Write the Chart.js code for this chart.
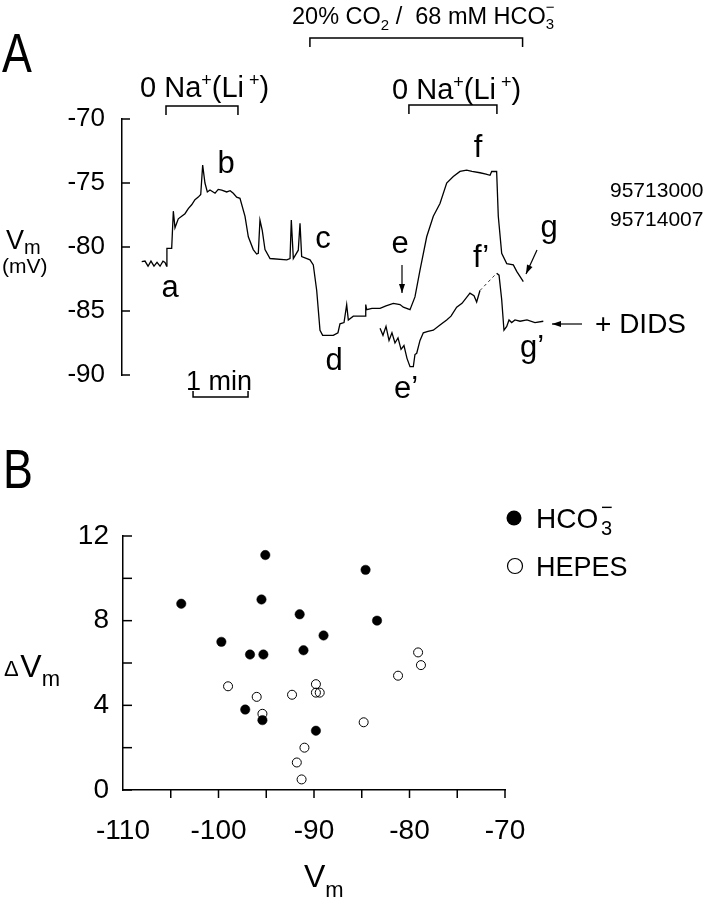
<!DOCTYPE html>
<html>
<head>
<meta charset="utf-8">
<script src="https://cdn.jsdelivr.net/npm/chart.js@4.4.0/dist/chart.umd.min.js"></script>
<style>
    html, body { margin: 0; padding: 0; background: #fff; }
    #wrap { position: relative; width: 708px; height: 899px; }
    #boxA { position: absolute; left: 0; top: 0; width: 708px; height: 420px; }
    #boxB { position: absolute; left: 0; top: 420px; width: 708px; height: 479px; }
</style>
</head>
<body>
<div id="wrap">
    <div id="boxA"><canvas id="chartA"></canvas></div>
    <div id="boxB"><canvas id="chartB"></canvas></div>
</div>
<script>
// Panel A: membrane potential trace (time in s, Vm in mV)
var traceT = [21.5, 25.1, 28.4, 31.6, 34.9, 38.2, 41.5, 44.7, 46.9, 48.6, 49.0, 54.2, 56.0, 57.8, 61.4, 65.1, 68.7, 72.3, 76.0, 79.6,
    83.2, 85.9, 88.0, 90.5, 93.1, 96.0, 101.5, 105.0, 108.8, 114.2, 118.0, 121.4, 125.1, 128.7, 134.2, 137.8, 143.2, 146.9, 148.7, 150.5,
    153.0, 156.0, 161.5, 179.7, 183.3, 184.7, 186.9, 192.3, 194.2, 196.0, 205.1, 208.7, 212.4, 216.0, 218.9, 230.5, 235.6, 237.8, 242.2, 245.1,
    246.9, 252.3, 265.1, 265.9, 266.9, 272.7, 281.5, 288.0, 296.0, 303.3, 306.9, 314.2, 319.6, 325.1, 332.4, 339.6, 346.9, 354.2, 361.4, 368.7,
    376.0, 381.8, 390.5, 397.1, 401.5, 403.3, 408.7, 410.5, 414.2, 419.7, 426.9, 430.6, 437.8];
var traceV = [-81.15, -81.1, -81.5, -81.1, -81.5, -81.2, -81.5, -81.1, -81.2, -81.5, -80.1, -80.1, -77.2, -78.5, -77.8, -77.6, -77.4, -77.0, -76.7, -76.3,
    -76.1, -75.9, -73.6, -75.0, -75.7, -75.55, -75.8, -75.5, -75.55, -75.7, -75.6, -75.8, -76.1, -76.2, -77.6, -79.2, -80.2, -80.55, -80.5, -77.9,
    -78.7, -80.2, -80.9, -81.0, -80.9, -77.9, -80.9, -80.25, -78.15, -80.75, -81.0, -81.4, -83.4, -86.5, -86.9, -86.9, -86.7, -86.0, -85.9, -84.5,
    -85.7, -85.4, -85.4, -84.5, -84.9, -84.8, -84.8, -84.6, -84.4, -84.5, -84.7, -84.9, -83.9, -81.8, -79.2, -77.6, -76.6, -75.0, -74.5, -74.1,
    -74.0, -74.1, -74.2, -74.3, -74.4, -74.1, -74.1, -77.6, -80.5, -81.3, -81.4, -81.9, -82.7];

// trace with DIDS (the gap after index 26 is drawn dashed)
var didsT = [281.5, 284.7, 288.0, 291.3, 294.5, 297.8, 301.1, 304.4, 307.6, 310.9, 314.2, 317.8, 319.6, 321.5, 325.1, 328.7, 333.8, 339.6, 346.9, 354.2,
    358.9, 365.1, 370.9, 379.6, 384.0, 386.9, 390.5, 408.7, 411.3, 414.2, 416.7, 419.7, 422.2, 425.1, 428.7, 434.2, 441.8, 450.5, 459.6];
var didsV = [-86.35, -86.9, -86.2, -87.3, -86.7, -87.5, -87.1, -88.0, -87.7, -88.7, -89.35, -89.35, -88.4, -88.3, -87.3, -86.7, -86.6, -86.5, -86.1, -85.7,
    -85.4, -84.7, -84.4, -83.6, -83.8, -84.3, -83.4, -82.05, -82.2, -84.1, -86.5, -86.2, -85.7, -85.9, -85.7, -85.8, -85.7, -85.9, -85.8];
var didsGapIndex = 26;

var naPulses = [[48, 126.5], [313, 409]];
var co2Pulse = [205, 437];
var scaleBar = [77.5, 137.5];

// Panel B: delta Vm vs Vm
var hco3Vm = [-103.9, -95.1, -84.6, -95.5, -91.5, -83.4, -99.7, -89.0, -96.7, -95.3, -91.1, -97.2, -95.4, -89.8];
var hco3dV = [8.8, 11.1, 10.4, 9.0, 8.3, 8.0, 7.0, 7.3, 6.4, 6.4, 6.6, 3.8, 3.3, 2.8];
var hepesVm = [-99.0, -96.0, -95.4, -92.3, -89.8, -89.8, -89.4, -84.8, -91.0, -91.8, -91.3, -81.2, -79.1, -78.8];
var hepesdV = [4.9, 4.4, 3.6, 4.5, 5.0, 4.6, 4.6, 3.2, 2.0, 1.3, 0.5, 5.4, 6.5, 5.9];

var FONT = '"Liberation Sans", Arial, sans-serif';
Chart.defaults.font.family = FONT;
Chart.defaults.color = '#000';

function pts(xs, ys) {
    return xs.map(function (x, i) { return { x: x, y: ys[i] }; });
}

function runs(ctx, x, y, parts) {
    parts.forEach(function (p) {
        ctx.font = p[1] + 'px ' + FONT;
        ctx.fillText(p[0], x, y + (p[2] || 0));
        if (!p[3]) x += ctx.measureText(p[0]).width;
    });
}

// condensed capital letter for panel tags
function tag(ctx, t, x, y) {
    ctx.save();
    ctx.translate(x, y);
    ctx.scale(0.8, 1);
    ctx.font = '56px ' + FONT;
    ctx.fillText(t, 0, 0);
    ctx.restore();
}

function line(ctx, x1, y1, x2, y2) {
    ctx.beginPath(); ctx.moveTo(x1, y1); ctx.lineTo(x2, y2); ctx.stroke();
}

function arrow(ctx, x1, y1, x2, y2) {
    line(ctx, x1, y1, x2, y2);
    var a = Math.atan2(y2 - y1, x2 - x1);
    ctx.beginPath();
    ctx.moveTo(x2, y2);
    ctx.lineTo(x2 - 9 * Math.cos(a) + 3 * Math.sin(a), y2 - 9 * Math.sin(a) - 3 * Math.cos(a));
    ctx.lineTo(x2 - 9 * Math.cos(a) - 3 * Math.sin(a), y2 - 9 * Math.sin(a) + 3 * Math.cos(a));
    ctx.closePath(); ctx.fill();
}

function bracket(ctx, x1, x2, y, h) {
    ctx.beginPath();
    ctx.moveTo(x1, y + h); ctx.lineTo(x1, y); ctx.lineTo(x2, y); ctx.lineTo(x2, y + h);
    ctx.stroke();
}

// inward ticks on y, optional downward ticks on x
var tickMarks = {
    id: 'tickMarks',
    afterDraw: function (chart, args, opts) {
        var ctx = chart.ctx, area = chart.chartArea;
        ctx.save();
        ctx.strokeStyle = '#000';
        ctx.lineWidth = 1.5;
        var ys = chart.scales.y;
        ys.ticks.forEach(function (t) {
            var p = ys.getPixelForValue(t.value);
            line(ctx, area.left, p, area.left + opts.len, p);
        });
        if (opts.xDown) {
            var xs = chart.scales.x;
            xs.ticks.forEach(function (t) {
                if (t.value === xs.min) return;
                var p = xs.getPixelForValue(t.value);
                line(ctx, p, area.bottom, p, area.bottom + 8);
            });
        }
        ctx.restore();
    }
};

var notesA = {
    id: 'notesA',
    afterDraw: function (chart) {
        var ctx = chart.ctx, xs = chart.scales.x;
        ctx.save();
        ctx.fillStyle = '#000';
        ctx.strokeStyle = '#000';
        ctx.lineWidth = 1.5;
        ctx.textBaseline = 'alphabetic';
        ctx.textAlign = 'left';

        tag(ctx, 'A', 2, 72);

        // solution bars
        bracket(ctx, xs.getPixelForValue(co2Pulse[0]), xs.getPixelForValue(co2Pulse[1]), 38, 9);
        runs(ctx, 292, 24, [['20% CO', 23.5], ['2', 15, 6], [' /  68 mM HCO', 23.5], ['\u2212', 15, -12, true], ['3', 15, 5]]);
        bracket(ctx, xs.getPixelForValue(naPulses[0][0]), xs.getPixelForValue(naPulses[0][1]), 106, 9);
        runs(ctx, 140, 97, [['0 Na', 29], ['+', 18, -11], ['(Li', 29], [' +', 18, -11], [')', 29]]);
        bracket(ctx, xs.getPixelForValue(naPulses[1][0]), xs.getPixelForValue(naPulses[1][1]), 105, 9);
        runs(ctx, 392, 99, [['0 Na', 29], ['+', 18, -11], ['(Li', 29], [' +', 18, -11], [')', 29]]);

        // axis title
        runs(ctx, 6, 249, [['V', 27], ['m', 20, 5]]);
        runs(ctx, 2, 273, [['(mV)', 21]]);

        // time scale bar
        var b1 = xs.getPixelForValue(scaleBar[0]), b2 = xs.getPixelForValue(scaleBar[1]);
        ctx.beginPath();
        ctx.moveTo(b1, 391); ctx.lineTo(b1, 397); ctx.lineTo(b2, 397); ctx.lineTo(b2, 391);
        ctx.stroke();
        ctx.textAlign = 'center';
        runs(ctx, 219, 390, [['1 min', 27]]);

        // point labels
        var labs = [['a', 170, 297], ['b', 226, 173], ['c', 323, 248], ['d', 334, 370], ['e', 400, 253],
            ['f', 478, 157], ['g', 549, 237], ['f\u2019', 481, 267], ['e\u2019', 406, 398], ['g\u2019', 532, 357]];
        labs.forEach(function (l) { runs(ctx, l[1], l[2], [[l[0], 31]]); });
        ctx.textAlign = 'left';

        ctx.lineWidth = 1.2;
        arrow(ctx, 402, 265, 402, 293);
        arrow(ctx, 537, 250, 526, 274);
        arrow(ctx, 582, 324, 552, 324);

        runs(ctx, 595, 333, [['+ DIDS', 28]]);
        runs(ctx, 610, 197, [['95713000', 21]]);
        runs(ctx, 610, 226, [['95714007', 21]]);
        ctx.restore();
    }
};

var notesB = {
    id: 'notesB',
    afterDraw: function (chart) {
        var ctx = chart.ctx;
        ctx.save();
        ctx.fillStyle = '#000';
        ctx.strokeStyle = '#000';
        ctx.textBaseline = 'alphabetic';
        ctx.textAlign = 'left';

        tag(ctx, 'B', 3, 68);
        runs(ctx, 4, 256, [['\u0394', 22], [' ', 6], ['V', 32, 1], ['m', 22, 10]]);
        runs(ctx, 304, 467, [['V', 32], ['m', 22, 10]]);

        // legend
        ctx.beginPath(); ctx.arc(514, 98, 7.5, 0, Math.PI * 2); ctx.fill();
        ctx.lineWidth = 1.2;
        ctx.beginPath(); ctx.arc(515, 146, 7.5, 0, Math.PI * 2); ctx.stroke();
        runs(ctx, 536, 108, [['HCO', 28], [' ', 10], ['\u2212', 20, -14, true], ['3', 20, 7]]);
        runs(ctx, 536, 156, [['HEPES', 27]]);
        ctx.restore();
    }
};

new Chart(document.getElementById('chartA'), {
    type: 'scatter',
    data: {
        datasets: [{
            data: pts(traceT, traceV),
            showLine: true,
            borderColor: '#000',
            borderWidth: 1.3,
            pointRadius: 0
        }, {
            data: pts(didsT, didsV),
            showLine: true,
            borderColor: '#000',
            borderWidth: 1.3,
            pointRadius: 0,
            segment: {
                borderDash: function (c) { return c.p0DataIndex === didsGapIndex ? [3, 3] : undefined; },
                borderWidth: function (c) { return c.p0DataIndex === didsGapIndex ? 0.8 : undefined; }
            }
        }]
    },
    options: {
        responsive: true,
        maintainAspectRatio: false,
        animation: false,
        layout: { padding: { left: 0, top: 119, right: 146, bottom: 45 } },
        plugins: { legend: { display: false }, tooltip: { enabled: false }, tickMarks: { len: 8 } },
        scales: {
            x: { type: 'linear', min: 0, max: 480, display: false },
            y: {
                min: -90, max: -70,
                afterFit: function (s) { s.width = 122; },
                border: { color: '#000', width: 1.5 },
                grid: { display: false, drawTicks: false },
                ticks: {
                    stepSize: 2.5, padding: 17, color: '#000', font: { size: 26 },
                    callback: function (v) { return v % 5 === 0 ? String(v) : ''; }
                }
            }
        }
    },
    plugins: [tickMarks, notesA]
});

new Chart(document.getElementById('chartB'), {
    type: 'scatter',
    data: {
        datasets: [{
            label: 'HCO3-',
            data: pts(hco3Vm, hco3dV),
            pointRadius: 4.7,
            pointBackgroundColor: '#000',
            pointBorderColor: '#000',
            pointBorderWidth: 0.5
        }, {
            label: 'HEPES',
            data: pts(hepesVm, hepesdV),
            pointRadius: 4.5,
            pointBackgroundColor: 'rgba(0,0,0,0)',
            pointBorderColor: '#000',
            pointBorderWidth: 1
        }]
    },
    options: {
        responsive: true,
        maintainAspectRatio: false,
        animation: false,
        layout: { padding: { left: 0, top: 116, right: 203, bottom: 0 } },
        plugins: { legend: { display: false }, tooltip: { enabled: false }, tickMarks: { len: 9, xDown: true } },
        scales: {
            x: {
                type: 'linear', min: -110, max: -70,
                afterFit: function (s) { s.height = 109; },
                border: { color: '#000', width: 1.5 },
                grid: { display: false, drawTicks: false },
                ticks: {
                    stepSize: 5, padding: 24, color: '#000', font: { size: 28 }, maxRotation: 0, autoSkip: false,
                    callback: function (v) { return v % 10 === 0 ? String(v) : ''; }
                }
            },
            y: {
                min: 0, max: 12,
                afterFit: function (s) { s.width = 123; },
                border: { color: '#000', width: 1.5 },
                grid: { display: false, drawTicks: false },
                ticks: {
                    stepSize: 2, padding: 14, color: '#000', font: { size: 28 },
                    callback: function (v) { return v % 4 === 0 ? String(v) : ''; }
                }
            }
        }
    },
    plugins: [tickMarks, notesB]
});
</script>
</body>
</html>
